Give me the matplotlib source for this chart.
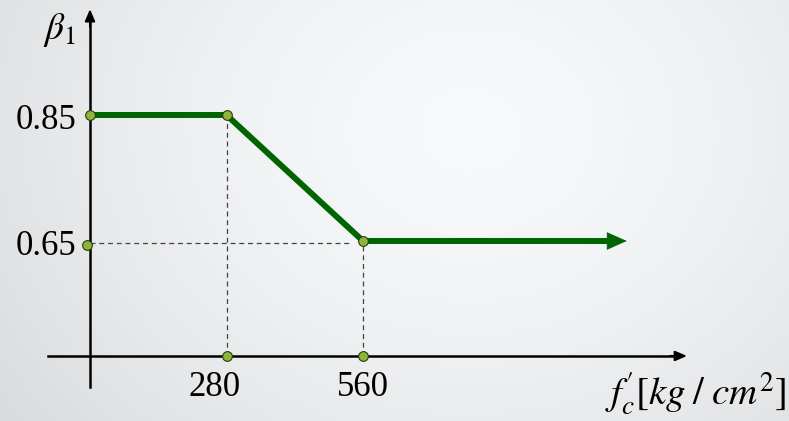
import numpy as np
import matplotlib
matplotlib.use("Agg")
import matplotlib.pyplot as plt

plt.rcParams['mathtext.fontset'] = 'stix'
plt.rcParams['font.family'] = ['Liberation Serif', 'DejaVu Serif']

# beta1 vs f'c
fc = [0, 280, 560]
beta = [0.85, 0.85, 0.65]
fc_end = 1062      # where the flat part ends (arrow starts)
fc_tip = 1101      # arrow tip
xticks = [280, 560]
xtick_labels = ['280', '560']
yticks = [0.85, 0.65]
ytick_labels = ['0.85', '0.65']

green = '#006400'
dot = '#8db53c'

fig = plt.figure(figsize=(7.89, 4.21), dpi=100)
ax = fig.add_axes([0, 0, 1, 1])
ax.set_xlim(-184.6, 1433.8)
ax.set_ylim(0.3643, 1.0325)
ax.axis('off')

# soft radial grey background
h, w = 421, 789
yy, xx = np.mgrid[0:h, 0:w]
r = np.sqrt((xx - 470) ** 2 + ((yy - 130) * 1.2) ** 2)
g = np.clip(0.975 - (r / 620) ** 1.6 * 0.13, 0.84, 0.975)
bg = np.dstack([g - 0.005, g, g + 0.005])
ax.imshow(np.clip(bg, 0, 1), extent=[-184.6, 1433.8, 0.3643, 1.0325],
          aspect='auto', zorder=0, interpolation='bilinear')

x0 = 0.4675   # height of the horizontal axis

# axes with arrows
ax.plot([0, 0], [0.418, 1.0], color='black', lw=1.8, zorder=2)
ax.annotate('', xy=(0, 1.018), xytext=(0, 0.99),
            arrowprops=dict(arrowstyle='-|>,head_length=0.7,head_width=0.3',
                            color='black', lw=1.5, shrinkA=0, shrinkB=0), zorder=2)
ax.plot([-86, 1200], [x0, x0], color='black', lw=1.8, zorder=2)
ax.annotate('', xy=(1224.6, x0), xytext=(1190, x0),
            arrowprops=dict(arrowstyle='-|>,head_length=0.7,head_width=0.3',
                            color='black', lw=1.5, shrinkA=0, shrinkB=0), zorder=2)

# dashed guide lines
dash = dict(color='#444444', lw=0.9, ls=(0, (4, 3)), zorder=1)
ax.plot([fc[1], fc[1]], [x0, beta[1]], **dash)
ax.plot([fc[2], fc[2]], [x0, beta[2]], **dash)
ax.plot([0, fc[2] - 25], [beta[2] - 0.003, beta[2] - 0.003], **dash)

# green curve
ax.plot(fc + [fc_end], beta + [beta[-1]], color=green, lw=4.3,
        solid_capstyle='butt', solid_joinstyle='miter', zorder=3)
ax.annotate('', xy=(fc_tip, beta[-1]), xytext=(fc_end - 5, beta[-1]),
            arrowprops=dict(arrowstyle='-|>,head_length=1.35,head_width=0.6',
                            color=green, lw=0.5, shrinkA=0, shrinkB=0), zorder=3)

# dots
mk = dict(marker='o', ms=7, mfc=dot, mec='#2a3a10', mew=0.8, ls='none', zorder=4)
ax.plot(fc, beta, **mk)
ax.plot(xticks, [x0] * len(xticks), **mk)
ax.plot([-6], [yticks[1] - 0.006], **mk)

# labels
for x, lab in zip(xticks, xtick_labels):
    ax.text(x - (12 if x == 280 else 0) * 280 / 136.5, 0.443, lab,
            fontsize=25, ha='center', va='top')
for y, lab in zip(yticks, ytick_labels):
    ax.text(-28, y - 0.008, lab, fontsize=25, ha='right', va='center')

ax.text(-30, 0.985, r'$\beta_1$', fontsize=27, ha='right', va='center')
ax.text(1428, 0.371, r"$f_c^{\prime}[kg\;/\;cm^2]$", fontsize=28,
        ha='right', va='bottom')

fig.savefig('out.png', dpi=100)
